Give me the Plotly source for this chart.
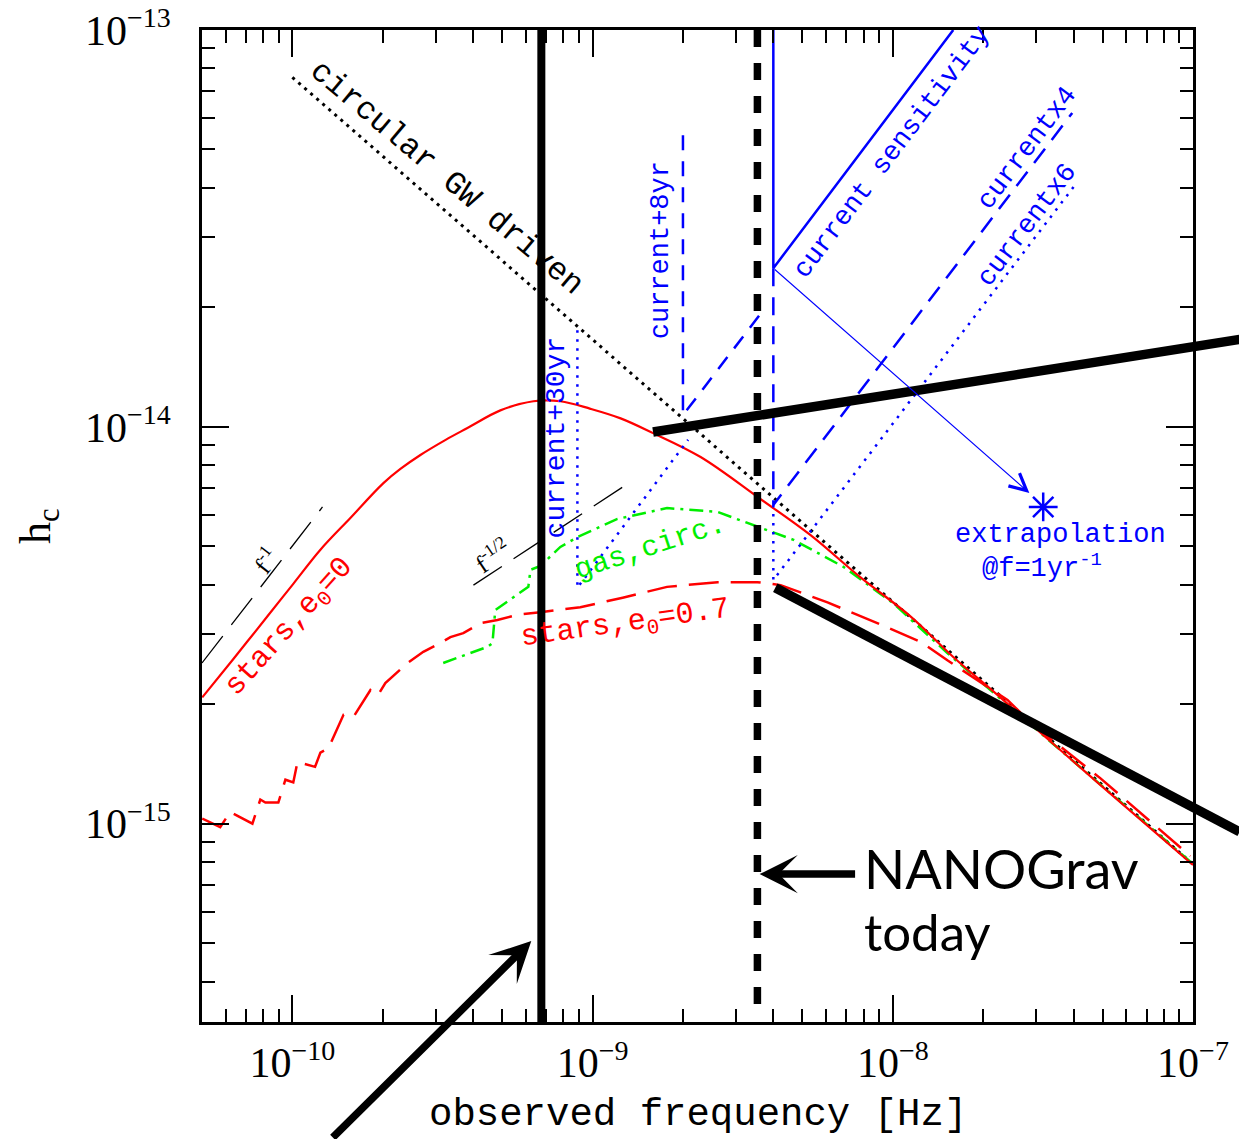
import numpy as np
import plotly.graph_objects as go

# ---------------- data ----------------
# stars, e0 = 0 (red solid)
f_e0 = [5.01e-11, 6.36e-11, 8.26e-11, 1.007e-10, 1.24e-10, 1.56e-10, 2.01e-10, 2.29e-10,
        2.67e-10, 3.24e-10, 3.83e-10, 4.93e-10, 6.35e-10, 7.81e-10, 9.84e-10, 1.24e-9, 1.59e-9,
        2.29e-9, 3.62e-9, 5.31e-9, 7.79e-9, 1.15e-8, 1.59e-8, 2.28e-8, 4.92e-8, 1.0e-7]
hc_e0 = [2.08e-15, 2.60e-15, 3.33e-15, 4.02e-15, 4.90e-15, 5.89e-15, 7.21e-15, 7.83e-15,
         8.49e-15, 9.27e-15, 9.93e-15, 1.10e-14, 1.16e-14, 1.16e-14, 1.11e-14, 1.05e-14, 9.64e-15,
         8.39e-15, 6.58e-15, 5.34e-15, 4.18e-15, 3.32e-15, 2.63e-15, 2.08e-15, 1.25e-15, 7.87e-16]

# stars, e0 = 0.7 (red long dashed)
f_e07 = [5.01e-11, 5.75e-11, 6.21e-11, 6.87e-11, 7.36e-11, 7.82e-11, 8.13e-11, 8.98e-11,
         9.48e-11, 1.007e-10, 1.04e-10, 1.19e-10, 1.24e-10, 1.32e-10, 1.48e-10, 1.60e-10,
         1.82e-10, 1.93e-10, 2.04e-10, 2.42e-10, 2.73e-10, 3.11e-10, 3.36e-10, 3.71e-10,
         4.23e-10, 4.82e-10, 5.62e-10, 6.70e-10, 9.10e-10, 1.26e-9, 1.77e-9, 2.61e-9,
         3.54e-9, 4.23e-9, 6.06e-9, 8.88e-9, 1.24e-8, 1.52e-8, 2.41e-8, 2.94e-8, 4.92e-8, 9.8e-8]
hc_e07 = [1.03e-15, 9.80e-16, 1.07e-15, 1.03e-15, 1.00e-15, 1.15e-15, 1.13e-15, 1.13e-15,
          1.29e-15, 1.27e-15, 1.43e-15, 1.39e-15, 1.51e-15, 1.55e-15, 1.88e-15, 1.86e-15,
          2.17e-15, 2.11e-15, 2.26e-15, 2.54e-15, 2.71e-15, 2.85e-15, 2.95e-15, 3.02e-15,
          3.20e-15, 3.26e-15, 3.36e-15, 3.41e-15, 3.51e-15, 3.71e-15, 3.95e-15, 4.06e-15,
          4.06e-15, 3.99e-15, 3.61e-15, 3.20e-15, 2.87e-15, 2.58e-15, 2.05e-15, 1.77e-15, 1.30e-15, 8.28e-16]

# gas, circular (green dash-dot)
f_gas = [3.18e-10, 4.47e-10, 4.64e-10, 4.74e-10, 5.45e-10, 6.11e-10, 6.21e-10, 6.70e-10,
         7.81e-10, 8.90e-10, 1.21e-9, 1.77e-9, 2.61e-9, 3.62e-9, 4.67e-9, 6.84e-9,
         1.00e-8, 1.52e-8, 2.60e-8, 4.92e-8, 1.0e-7]
hc_gas = [2.54e-15, 2.79e-15, 2.85e-15, 3.45e-15, 3.72e-15, 3.95e-15, 4.36e-15, 4.46e-15,
          4.98e-15, 5.27e-15, 5.86e-15, 6.24e-15, 6.10e-15, 5.58e-15, 5.19e-15, 4.44e-15,
          3.60e-15, 2.69e-15, 1.90e-15, 1.25e-15, 7.91e-16]

# circular GW driven (black dotted)
f_gw = [1.0e-10, 1.0e-7]
hc_gw = [7.6e-14, 7.9e-16]

# slope guides
f_fm1 = [5.0e-11, 1.26e-10]
hc_fm1 = [2.54e-15, 6.28e-15]
f_fm12 = [4.01e-10, 1.26e-9]
hc_fm12 = [3.99e-15, 7.05e-15]

# PTA sensitivity curves (blue)
f_cur = [4.0e-9, 4.0e-9, 1.59e-8]
hc_cur = [1.0e-13, 2.51e-14, 1.0e-13]
f_8yr = [2.0e-9, 2.0e-9, 3.71e-9]
hc_8yr = [5.43e-14, 1.07e-14, 1.97e-14]
f_x4 = [4.0e-9, 4.0e-9, 3.96e-8]
hc_x4 = [2.51e-14, 6.35e-15, 6.18e-14]
f_30yr = [8.9e-10, 8.9e-10, 2.08e-9]
hc_30yr = [1.75e-14, 3.93e-15, 9.27e-15]
f_x6 = [4.0e-9, 4.0e-9, 4.0e-8]
hc_x6 = [6.35e-15, 4.11e-15, 4.02e-14]
f_extrap = [3.17e-8]
hc_extrap = [6.28e-15]

# NANOGrav markers
f_span = 6.75e-10
f_today = 3.54e-9
hc_vspan = [3.1e-16, 1.05e-13]
hc_vtoday = [1.0e-13, 3.2e-16]
# overlay thick lines (endpoints)
f_up = [1.59e-9, 1.43e-7]
hc_up = [9.7e-15, 1.66e-14]
f_low = [4.06e-9, 1.43e-7]
hc_low = [3.93e-15, 9.53e-16]

SUP = "<sup><span style='font-size:28px'>{}</span></sup>"
x_tickvals = [1e-10, 1e-9, 1e-8, 1e-7]
x_ticktext = ["10" + SUP.format(e) for e in ("−10", "−9", "−8", "−7")]
y_tickvals = [1e-15, 1e-14, 1e-13]
y_ticktext = ["10" + SUP.format(e) for e in ("−15", "−14", "−13")]
x_minor = [m * 10.0 ** e for e in (-11, -10, -9, -8) for m in range(2, 10)]
y_minor = [m * 10.0 ** e for e in (-16, -15, -14) for m in range(2, 10)]

# ---------------- figure ----------------
XR = [np.log10(5e-11), -7.0]
YR = [-15.5, -13.0]
RED, GREEN, BLUE, BLACK = "#ff0000", "#00ee00", "#0000ff", "#000000"
MONO, SERIF, SANS = "Liberation Mono", "Liberation Serif", "Lato"


def paper(f, h):
    return ((np.log10(f) - XR[0]) / (XR[1] - XR[0]),
            (np.log10(h) - YR[0]) / (YR[1] - YR[0]))


fig = go.Figure()


def add_line(x, y, color, width, dash="solid", shape="linear"):
    fig.add_trace(go.Scatter(x=x, y=y, mode="lines",
                             line=dict(color=color, width=width, dash=dash, shape=shape),
                             showlegend=False, hoverinfo="skip"))


add_line(f_fm1, hc_fm1, BLACK, 1.3, "34px,14px")
add_line(f_fm12, hc_fm12, BLACK, 1.3, "34px,14px")
add_line(f_gw, hc_gw, BLACK, 3, "3px,5px")
add_line(f_gas, hc_gas, GREEN, 2.5, "14px,6px,3px,6px")
add_line(f_e07, hc_e07, RED, 2.5, "30px,12px")
add_line(f_e0, hc_e0, RED, 2.2, "solid", "spline")

add_line(f_cur, hc_cur, BLUE, 2.5)
add_line(f_8yr, hc_8yr, BLUE, 2.5, "15px,11px")
add_line(f_x4, hc_x4, BLUE, 2.5, "18px,11px")
add_line(f_30yr, hc_30yr, BLUE, 2.5, "2.5px,6.5px")
add_line(f_x6, hc_x6, BLUE, 2.5, "2.5px,6.5px")

add_line([f_span, f_span], hc_vspan, BLACK, 8)
add_line([f_today, f_today], hc_vtoday, BLACK, 7.5, "17px,16px")

fig.add_trace(go.Scatter(x=f_extrap, y=hc_extrap, mode="markers",
                         marker=dict(symbol="asterisk-open", size=24, color=BLUE,
                                     line=dict(color=BLUE, width=2.5)),
                         showlegend=False, hoverinfo="skip"))

# thick overlay lines (extend beyond the frame)
for fx, hy in ((f_up, hc_up), (f_low, hc_low)):
    x0, y0 = paper(fx[0], hy[0])
    x1, y1 = paper(fx[1], hy[1])
    fig.add_shape(type="line", xref="paper", yref="paper", x0=x0, y0=y0, x1=x1, y1=y1,
                  line=dict(color=BLACK, width=9.5))

ann = []


def label(text, lx, ly, size, color, font=MONO, angle=0, xanchor="center"):
    ann.append(dict(text=text, x=lx, y=ly, xref="x", yref="y", showarrow=False,
                    textangle=angle, xanchor=xanchor, yanchor="middle",
                    font=dict(family=font, size=size, color=color)))


label("circular GW driven", -9.484, -13.373, 32, BLACK, angle=40)
label("current sensitivity", -8.001, -13.307, 27, BLUE, angle=-53)
label("currentx4", -7.552, -13.297, 27, BLUE, angle=-53)
label("currentx6", -7.552, -13.491, 27, BLUE, angle=-53)
label("current+8yr", -8.774, -13.554, 27, BLUE, angle=-90)
label("current+30yr", -9.121, -14.026, 28, BLUE, angle=-90)
label("extrapolation", -7.442, -14.272, 27, BLUE)
label("@f=1yr<sup>-1</sup>", -7.502, -14.352, 27, BLUE)
label("stars,e<sub>0</sub>=0", -10.007, -14.507, 30, RED, angle=-48)
label("stars,e<sub>0</sub>=0.7", -8.891, -14.497, 30, RED, angle=-8)
label("gas,circ.", -8.807, -14.305, 29, GREEN, angle=-18)
label("f<sup>-1</sup>", -10.090, -14.336, 25, BLACK, font=SERIF, angle=-52)
label("f<sup>-1/2</sup>", -9.334, -14.323, 25, BLACK, font=SERIF, angle=-34)
label("NANOGrav", -8.101, -15.112, 54, BLACK, font=SANS, xanchor="left")
label("today", -8.101, -15.273, 51, BLACK, font=SANS, xanchor="left")

# arrows
ann.append(dict(x=np.log10(6.25e-10), y=np.log10(5.06e-16), xref="x", yref="y",
                ax=-200, ay=214, axref="pixel", ayref="pixel", text="", showarrow=True,
                arrowhead=3, arrowsize=0.9, arrowwidth=7.5, arrowcolor=BLACK))
ann.append(dict(x=np.log10(3.60e-9), y=np.log10(7.46e-16), xref="x", yref="y",
                ax=97, ay=0, axref="pixel", ayref="pixel", text="", showarrow=True,
                arrowhead=3, arrowsize=0.85, arrowwidth=7.5, arrowcolor=BLACK))
ann.append(dict(x=np.log10(2.85e-8), y=np.log10(6.81e-15), xref="x", yref="y",
                ax=np.log10(4.0e-9), ay=np.log10(2.51e-14), axref="x", ayref="y",
                text="", showarrow=True, arrowhead=5, arrowsize=3, arrowwidth=1.1,
                arrowcolor=BLUE))

# axis titles
ann.append(dict(text="observed frequency [Hz]", x=0.5, y=-0.094, xref="paper", yref="paper",
                showarrow=False, xanchor="center", yanchor="middle",
                font=dict(family=MONO, size=39, color=BLACK)))
ann.append(dict(text="h<sub>c</sub>", x=-0.1655, y=0.5, xref="paper", yref="paper",
                showarrow=False, xanchor="center", yanchor="middle", textangle=-90,
                font=dict(family=SERIF, size=44, color=BLACK)))

axis_common = dict(type="log", showline=True, linecolor=BLACK, linewidth=2.5, mirror="ticks",
                   ticks="inside", ticklen=27, tickwidth=2, tickcolor=BLACK,
                   showgrid=False, zeroline=False, tickmode="array", automargin=False,
                   tickfont=dict(family=SERIF, size=42, color=BLACK))

fig.update_xaxes(range=XR, tickvals=x_tickvals, ticktext=x_ticktext, ticklabelstandoff=2,
                 minor=dict(ticks="inside", ticklen=13, tickwidth=2, tickcolor=BLACK,
                            tickmode="array", tickvals=x_minor, showgrid=False),
                 **axis_common)
fig.update_yaxes(range=YR, tickvals=y_tickvals, ticktext=y_ticktext, ticklabelstandoff=20,
                 minor=dict(ticks="inside", ticklen=13, tickwidth=2, tickcolor=BLACK,
                            tickmode="array", tickvals=y_minor, showgrid=False),
                 **axis_common)

fig.update_layout(width=1239, height=1139, autosize=False,
                  margin=dict(l=202, r=46, t=30, b=117),
                  paper_bgcolor="white", plot_bgcolor="white",
                  annotations=ann, showlegend=False)

fig.write_html("out.html")
